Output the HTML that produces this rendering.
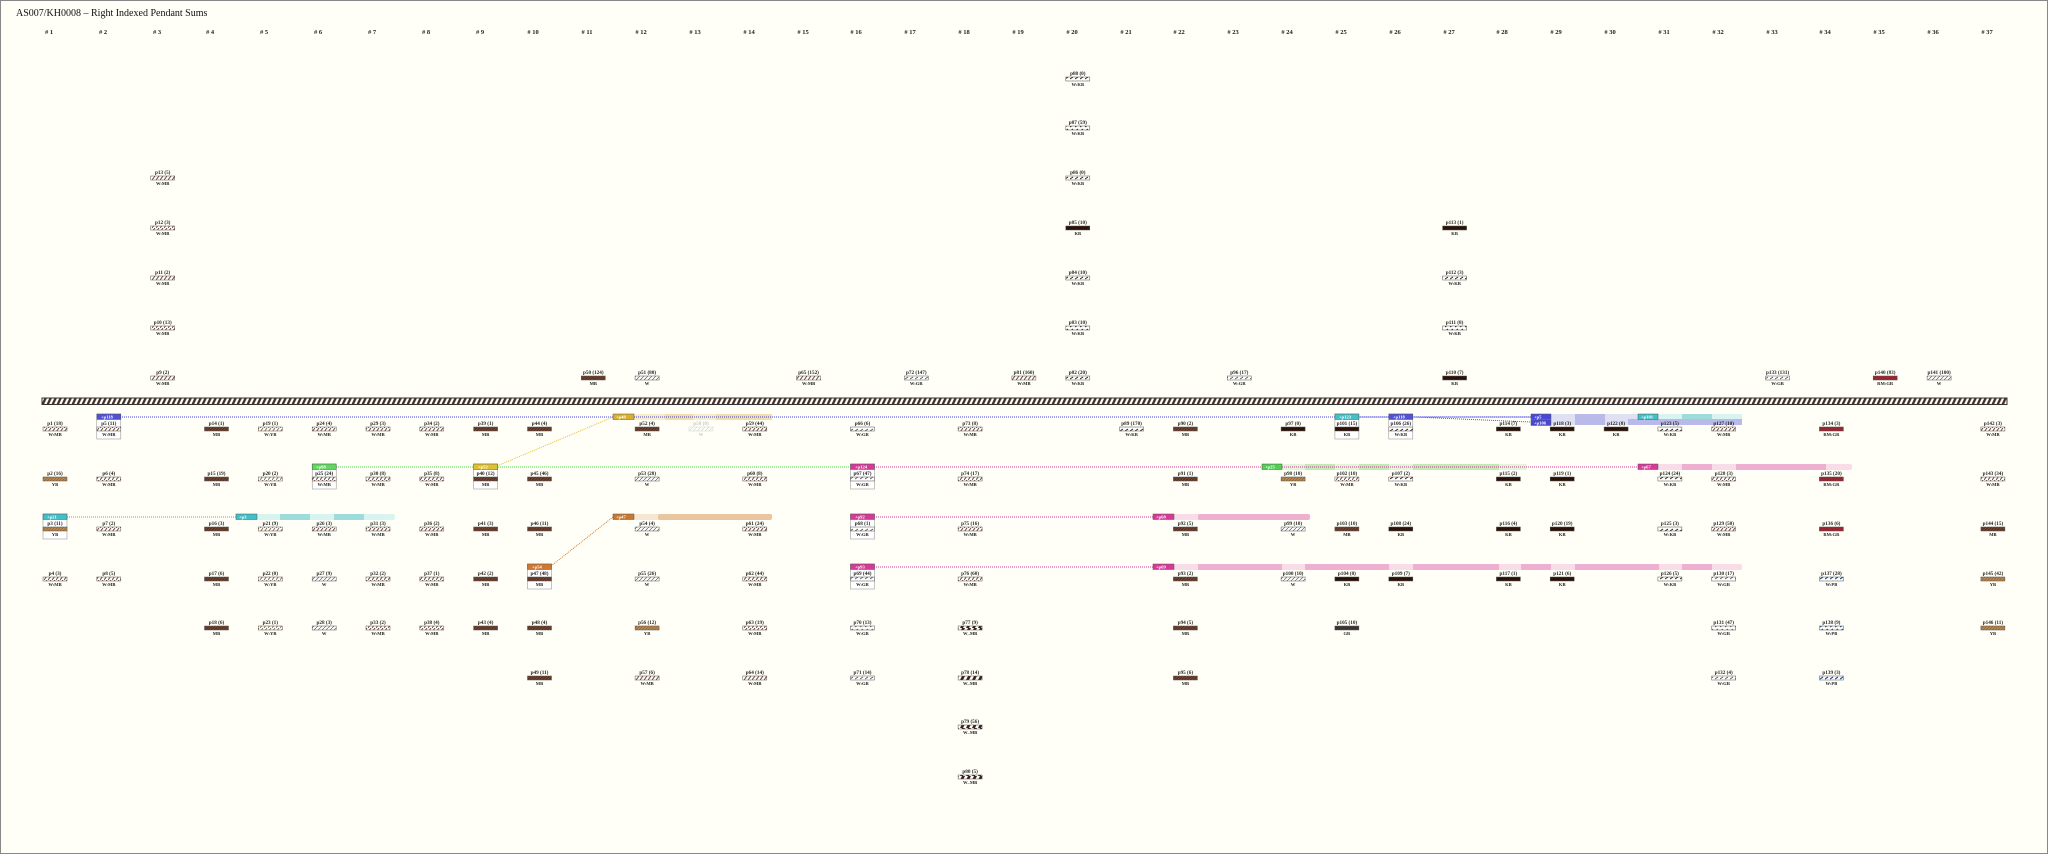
<!DOCTYPE html>
<html><head><meta charset="utf-8"><style>
html,body{margin:0;padding:0;background:#fffff8;}
svg{display:block;}
text{font-family:"Liberation Serif",serif;}
.l{font-size:5.2px;font-weight:bold;text-anchor:middle;fill:#222;}
.c{font-size:4.6px;font-weight:bold;text-anchor:middle;fill:#222;}
.h{font-size:6.5px;font-weight:bold;text-anchor:middle;fill:#222;}
.t{font-size:4.6px;fill:#fff;font-weight:bold;}
.b{stroke:#555;stroke-width:0.5;}
</style></head><body>
<svg width="2048" height="854" viewBox="0 0 2048 854" xmlns="http://www.w3.org/2000/svg">
<defs>
<pattern id="cord" width="5" height="8" patternUnits="userSpaceOnUse" patternTransform="skewX(-25)"><rect width="5" height="8" fill="#fff"/><rect width="2.6" height="8" fill="#4a3028"/></pattern>
<pattern id="MB" width="3" height="3" patternUnits="userSpaceOnUse"><rect width="3" height="3" fill="#5e3424"/><path d="M0 3L3 0" stroke="#8a5a44" stroke-width="0.5"/></pattern>
<pattern id="YB" width="3" height="3" patternUnits="userSpaceOnUse"><rect width="3" height="3" fill="#b8864c"/><path d="M0 3L3 0" stroke="#7a5430" stroke-width="0.5"/></pattern>
<pattern id="W" width="4" height="4" patternUnits="userSpaceOnUse"><rect width="4" height="4" fill="#fff"/><path d="M0 4L4 0" stroke="#444" stroke-width="0.6"/></pattern>
<pattern id="WMB" width="4" height="4" patternUnits="userSpaceOnUse"><rect width="4" height="4" fill="#fff"/><path d="M0 4L3 0" stroke="#6a3a2a" stroke-width="0.9"/></pattern>
<pattern id="WKB" width="5" height="4" patternUnits="userSpaceOnUse"><rect width="5" height="4" fill="#fff"/><path d="M0 3L3 1" stroke="#2a1208" stroke-width="0.9"/></pattern>
<pattern id="WGR" width="5" height="4" patternUnits="userSpaceOnUse"><rect width="5" height="4" fill="#fff"/><path d="M0 3L3 1" stroke="#555" stroke-width="0.8"/></pattern>
<pattern id="WYB" width="4" height="4" patternUnits="userSpaceOnUse"><rect width="4" height="4" fill="#fff"/><path d="M0 4L3 0" stroke="#8a6a44" stroke-width="0.9"/></pattern>
<pattern id="WPB" width="5" height="4" patternUnits="userSpaceOnUse"><rect width="5" height="4" fill="#fff"/><path d="M0 3L3 1" stroke="#1e4a8a" stroke-width="1.1"/></pattern>
<pattern id="WdMB" width="6" height="4" patternUnits="userSpaceOnUse"><rect width="6" height="4" fill="#fff"/><path d="M0 4L2 0H5L3 4Z" fill="#3a2018"/></pattern>
</defs>
<rect x="0.5" y="0.5" width="2047" height="853" fill="#fffff8" stroke="#888" stroke-width="1"/>
<text x="16" y="16" style="font-size:10px;fill:#111">AS007/KH0008 – Right Indexed Pendant Sums</text>
<g class="h">
<text x="49" y="34"># 1</text><text x="103" y="34"># 2</text><text x="157" y="34"># 3</text><text x="210" y="34"># 4</text><text x="264" y="34"># 5</text><text x="318" y="34"># 6</text><text x="372" y="34"># 7</text><text x="426" y="34"># 8</text><text x="480" y="34"># 9</text><text x="533" y="34"># 10</text><text x="587" y="34"># 11</text><text x="641" y="34"># 12</text><text x="695" y="34"># 13</text><text x="749" y="34"># 14</text><text x="803" y="34"># 15</text><text x="856" y="34"># 16</text><text x="910" y="34"># 17</text><text x="964" y="34"># 18</text><text x="1018" y="34"># 19</text><text x="1072" y="34"># 20</text><text x="1126" y="34"># 21</text><text x="1179" y="34"># 22</text><text x="1233" y="34"># 23</text><text x="1287" y="34"># 24</text><text x="1341" y="34"># 25</text><text x="1395" y="34"># 26</text><text x="1449" y="34"># 27</text><text x="1502" y="34"># 28</text><text x="1556" y="34"># 29</text><text x="1610" y="34"># 30</text><text x="1664" y="34"># 31</text><text x="1718" y="34"># 32</text><text x="1772" y="34"># 33</text><text x="1825" y="34"># 34</text><text x="1879" y="34"># 35</text><text x="1933" y="34"># 36</text><text x="1987" y="34"># 37</text>
</g>
<!-- cord -->
<rect x="42" y="398" width="1965" height="6.5" fill="url(#cord)" stroke="#333" stroke-width="1"/>

<!-- bands -->
<g opacity="0.55">
<rect x="634" y="414" width="138" height="6" rx="2" fill="#f2dfa0"/><rect x="665" y="414" width="28" height="6" fill="#e8c468"/><rect x="716" y="414" width="56" height="6" fill="#e8c468"/>
<rect x="634" y="514" width="138" height="6" rx="2" fill="#f0d4b4"/><rect x="658" y="514" width="114" height="6" rx="2" fill="#d89858"/>
<rect x="257" y="514" width="138" height="6" rx="2" fill="#b8ecec"/><rect x="280" y="514" width="30" height="6" fill="#50c0c4"/><rect x="334" y="514" width="30" height="6" fill="#50c0c4"/>
<rect x="1282" y="464" width="245" height="6" rx="2" fill="#c8f0c0"/><rect x="1305" y="464" width="30" height="6" fill="#88dd80"/><rect x="1359" y="464" width="30" height="6" fill="#88dd80"/><rect x="1413" y="464" width="86" height="6" fill="#88dd80"/>
<rect x="1658" y="464" width="194" height="6" rx="2" fill="#f4c0dc"/><rect x="1682" y="464" width="30" height="6" fill="#e070b0"/><rect x="1736" y="464" width="90" height="6" fill="#e070b0"/>
<rect x="1174" y="514" width="136" height="6" rx="2" fill="#f4c0dc"/><rect x="1198" y="514" width="112" height="6" rx="2" fill="#e070b0"/>
<rect x="1174" y="564" width="568" height="6" rx="2" fill="#f4c0dc"/><rect x="1198" y="564" width="84" height="6" fill="#e070b0"/><rect x="1305" y="564" width="84" height="6" fill="#e070b0"/><rect x="1413" y="564" width="86" height="6" fill="#e070b0"/><rect x="1521" y="564" width="30" height="6" fill="#e070b0"/><rect x="1575" y="564" width="84" height="6" fill="#e070b0"/><rect x="1682" y="564" width="30" height="6" fill="#e070b0"/>
<rect x="1551" y="414" width="191" height="11" rx="2" fill="#c8c8f0"/><rect x="1575" y="414" width="30" height="11" fill="#8080e0"/><rect x="1628" y="419" width="114" height="6" fill="#8080e0"/>
<rect x="1658" y="414" width="84" height="5" rx="2" fill="#b8ecec"/><rect x="1682" y="414" width="30" height="5" fill="#50c0c4"/>
</g>
<!-- dotted lines -->
<g fill="none" stroke-width="0.9" stroke-dasharray="1,1">
<path d="M120 417H1531" stroke="#4444e0"/>
<path d="M1413 417L1531 422" stroke="#4444e0"/>
<path d="M1359 417H1531" stroke="#30b8c4"/>
<path d="M67 517H236" stroke="#30b8c4"/>
<path d="M336 467H1270" stroke="#50d850"/>
<path d="M874 467H1638" stroke="#d83898"/>
<path d="M874 517H1153" stroke="#d83898"/>
<path d="M874 567H1153" stroke="#d83898"/>
<path d="M497 466L613 417" stroke="#e0b820"/>
<path d="M551 566L613 517" stroke="#c87020"/>
</g>
<!-- tags -->
<g class="b">
<rect x="613" y="414" width="21" height="5.5" fill="#d8b030"/>
<rect x="613" y="514" width="21" height="5.5" fill="#c87830"/>
<rect x="236" y="514" width="21" height="5.5" fill="#40c0c8"/>
<rect x="1262" y="464" width="20" height="5.5" fill="#50d050"/>
<rect x="1638" y="464" width="20" height="5.5" fill="#d83898"/>
<rect x="1153" y="514" width="21" height="5.5" fill="#d83898"/>
<rect x="1153" y="564" width="21" height="5.5" fill="#d83898"/>
<rect x="1531" y="414" width="20" height="5.5" fill="#4848d8"/>
<rect x="1531" y="420" width="20" height="5.5" fill="#4848d8"/>
<rect x="1638" y="414" width="20" height="5.5" fill="#40c0c8"/>
</g>
<g class="t">
<text x="616" y="418.5">+p40</text><text x="616" y="518.5">+p47</text><text x="239" y="518.5">+p3</text><text x="1265" y="468.5">+p25</text><text x="1641" y="468.5">+p67</text><text x="1156" y="518.5">+p68</text><text x="1156" y="568.5">+p69</text><text x="1534" y="418.5">+p5</text><text x="1534" y="424.5">+p106</text><text x="1641" y="418.5">+p101</text>
</g>

<!-- boxes -->
<g class="b" fill="#fff">
<rect x="43" y="514" width="24" height="25" stroke="#888"/><rect x="43" y="514" width="24" height="5.5" fill="#40c0c8"/>
<rect x="96.8" y="414" width="24" height="25" stroke="#888"/><rect x="96.8" y="414" width="24" height="5.5" fill="#5050d8"/>
<rect x="312.2" y="464" width="24" height="25" stroke="#888"/><rect x="312.2" y="464" width="24" height="5.5" fill="#60d860"/>
<rect x="473.6" y="464" width="24" height="25" stroke="#888"/><rect x="473.6" y="464" width="24" height="5.5" fill="#e0c030"/>
<rect x="527.5" y="564" width="24" height="25" stroke="#888"/><rect x="527.5" y="564" width="24" height="5.5" fill="#d07830"/>
<rect x="850.5" y="464" width="24" height="25" stroke="#888"/><rect x="850.5" y="464" width="24" height="5.5" fill="#d83898"/>
<rect x="850.5" y="514" width="24" height="25" stroke="#888"/><rect x="850.5" y="514" width="24" height="5.5" fill="#d83898"/>
<rect x="850.5" y="564" width="24" height="25" stroke="#888"/><rect x="850.5" y="564" width="24" height="5.5" fill="#d83898"/>
<rect x="1334.9" y="414" width="24" height="25" stroke="#888"/><rect x="1334.9" y="414" width="24" height="5.5" fill="#40c0c8"/>
<rect x="1388.8" y="414" width="24" height="25" stroke="#888"/><rect x="1388.8" y="414" width="24" height="5.5" fill="#5050d8"/>
</g>
<g class="t">
<text x="47" y="518.5">+p21</text><text x="101" y="418.5">+p118</text><text x="316" y="468.5">+p98</text><text x="478" y="468.5">+p52</text><text x="532" y="568.5">+p54</text><text x="855" y="468.5">+p124</text><text x="855" y="518.5">+p92</text><text x="855" y="568.5">+p93</text><text x="1339" y="418.5">+p123</text><text x="1393" y="418.5">+p118</text>
</g>

<!-- pendants -->
<g id="pd">
<!-- col1 x55 -->
<text class="l" x="55" y="425">p1 (18)</text><rect class="b" x="43" y="427" width="24" height="4" fill="url(#WMB)"/><text class="c" x="55" y="436">W:MB</text>
<text class="l" x="55" y="475">p2 (16)</text><rect class="b" x="43" y="477" width="24" height="4" fill="url(#YB)"/><text class="c" x="55" y="486">YB</text>
<text class="l" x="55" y="525">p3 (11)</text><rect class="b" x="43" y="527" width="24" height="4" fill="url(#YB)"/><text class="c" x="55" y="536">YB</text>
<text class="l" x="55" y="575">p4 (3)</text><rect class="b" x="43" y="577" width="24" height="4" fill="url(#WMB)"/><text class="c" x="55" y="586">W:MB</text>
<!-- col2 -->
<text class="l" x="108.8" y="425">p5 (11)</text><rect class="b" x="96.8" y="427" width="24" height="4" fill="url(#WMB)"/><text class="c" x="108.8" y="436">W:MB</text>
<text class="l" x="108.8" y="475">p6 (4)</text><rect class="b" x="96.8" y="477" width="24" height="4" fill="url(#WMB)"/><text class="c" x="108.8" y="486">W:MB</text>
<text class="l" x="108.8" y="525">p7 (2)</text><rect class="b" x="96.8" y="527" width="24" height="4" fill="url(#WMB)"/><text class="c" x="108.8" y="536">W:MB</text>
<text class="l" x="108.8" y="575">p8 (5)</text><rect class="b" x="96.8" y="577" width="24" height="4" fill="url(#WMB)"/><text class="c" x="108.8" y="586">W:MB</text>
<!-- col3 above -->
<text class="l" x="162.7" y="374">p9 (2)</text><rect class="b" x="150.7" y="376" width="24" height="4" fill="url(#WMB)"/><text class="c" x="162.7" y="385">W:MB</text>
<text class="l" x="162.7" y="324">p10 (13)</text><rect class="b" x="150.7" y="326" width="24" height="4" fill="url(#WMB)"/><text class="c" x="162.7" y="335">W:MB</text>
<text class="l" x="162.7" y="274">p11 (2)</text><rect class="b" x="150.7" y="276" width="24" height="4" fill="url(#WMB)"/><text class="c" x="162.7" y="285">W:MB</text>
<text class="l" x="162.7" y="224">p12 (3)</text><rect class="b" x="150.7" y="226" width="24" height="4" fill="url(#WMB)"/><text class="c" x="162.7" y="235">W:MB</text>
<text class="l" x="162.7" y="174">p13 (5)</text><rect class="b" x="150.7" y="176" width="24" height="4" fill="url(#WMB)"/><text class="c" x="162.7" y="185">W:MB</text>
<!-- col4 -->
<text class="l" x="216.5" y="425">p14 (1)</text><rect class="b" x="204.5" y="427" width="24" height="4" fill="url(#MB)"/><text class="c" x="216.5" y="436">MB</text>
<text class="l" x="216.5" y="475">p15 (19)</text><rect class="b" x="204.5" y="477" width="24" height="4" fill="url(#MB)"/><text class="c" x="216.5" y="486">MB</text>
<text class="l" x="216.5" y="525">p16 (3)</text><rect class="b" x="204.5" y="527" width="24" height="4" fill="url(#MB)"/><text class="c" x="216.5" y="536">MB</text>
<text class="l" x="216.5" y="575">p17 (6)</text><rect class="b" x="204.5" y="577" width="24" height="4" fill="url(#MB)"/><text class="c" x="216.5" y="586">MB</text>
<text class="l" x="216.5" y="624">p18 (6)</text><rect class="b" x="204.5" y="626" width="24" height="4" fill="url(#MB)"/><text class="c" x="216.5" y="635">MB</text>
<!-- col5 -->
<text class="l" x="270.3" y="425">p19 (1)</text><rect class="b" x="258.3" y="427" width="24" height="4" fill="url(#WYB)"/><text class="c" x="270.3" y="436">W:YB</text>
<text class="l" x="270.3" y="475">p20 (2)</text><rect class="b" x="258.3" y="477" width="24" height="4" fill="url(#WYB)"/><text class="c" x="270.3" y="486">W:YB</text>
<text class="l" x="270.3" y="525">p21 (9)</text><rect class="b" x="258.3" y="527" width="24" height="4" fill="url(#WYB)"/><text class="c" x="270.3" y="536">W:YB</text>
<text class="l" x="270.3" y="575">p22 (0)</text><rect class="b" x="258.3" y="577" width="24" height="4" fill="url(#WYB)"/><text class="c" x="270.3" y="586">W:YB</text>
<text class="l" x="270.3" y="624">p23 (1)</text><rect class="b" x="258.3" y="626" width="24" height="4" fill="url(#WYB)"/><text class="c" x="270.3" y="635">W:YB</text>
<!-- col6 -->
<text class="l" x="324.2" y="425">p24 (4)</text><rect class="b" x="312.2" y="427" width="24" height="4" fill="url(#WMB)"/><text class="c" x="324.2" y="436">W:MB</text>
<text class="l" x="324.2" y="475">p25 (24)</text><rect class="b" x="312.2" y="477" width="24" height="4" fill="url(#WMB)"/><text class="c" x="324.2" y="486">W:MB</text>
<text class="l" x="324.2" y="525">p26 (3)</text><rect class="b" x="312.2" y="527" width="24" height="4" fill="url(#WMB)"/><text class="c" x="324.2" y="536">W:MB</text>
<text class="l" x="324.2" y="575">p27 (9)</text><rect class="b" x="312.2" y="577" width="24" height="4" fill="url(#W)"/><text class="c" x="324.2" y="586">W</text>
<text class="l" x="324.2" y="624">p28 (3)</text><rect class="b" x="312.2" y="626" width="24" height="4" fill="url(#W)"/><text class="c" x="324.2" y="635">W</text>
<!-- col7 -->
<text class="l" x="378" y="425">p29 (3)</text><rect class="b" x="366" y="427" width="24" height="4" fill="url(#WMB)"/><text class="c" x="378" y="436">W:MB</text>
<text class="l" x="378" y="475">p30 (8)</text><rect class="b" x="366" y="477" width="24" height="4" fill="url(#WMB)"/><text class="c" x="378" y="486">W:MB</text>
<text class="l" x="378" y="525">p31 (3)</text><rect class="b" x="366" y="527" width="24" height="4" fill="url(#WMB)"/><text class="c" x="378" y="536">W:MB</text>
<text class="l" x="378" y="575">p32 (2)</text><rect class="b" x="366" y="577" width="24" height="4" fill="url(#WMB)"/><text class="c" x="378" y="586">W:MB</text>
<text class="l" x="378" y="624">p33 (2)</text><rect class="b" x="366" y="626" width="24" height="4" fill="url(#WMB)"/><text class="c" x="378" y="635">W:MB</text>
<!-- col8 -->
<text class="l" x="431.8" y="425">p34 (2)</text><rect class="b" x="419.8" y="427" width="24" height="4" fill="url(#WMB)"/><text class="c" x="431.8" y="436">W:MB</text>
<text class="l" x="431.8" y="475">p35 (8)</text><rect class="b" x="419.8" y="477" width="24" height="4" fill="url(#WMB)"/><text class="c" x="431.8" y="486">W:MB</text>
<text class="l" x="431.8" y="525">p36 (2)</text><rect class="b" x="419.8" y="527" width="24" height="4" fill="url(#WMB)"/><text class="c" x="431.8" y="536">W:MB</text>
<text class="l" x="431.8" y="575">p37 (1)</text><rect class="b" x="419.8" y="577" width="24" height="4" fill="url(#WMB)"/><text class="c" x="431.8" y="586">W:MB</text>
<text class="l" x="431.8" y="624">p38 (4)</text><rect class="b" x="419.8" y="626" width="24" height="4" fill="url(#WMB)"/><text class="c" x="431.8" y="635">W:MB</text>
<!-- col9 -->
<text class="l" x="485.6" y="425">p39 (1)</text><rect class="b" x="473.6" y="427" width="24" height="4" fill="url(#MB)"/><text class="c" x="485.6" y="436">MB</text>
<text class="l" x="485.6" y="475">p40 (12)</text><rect class="b" x="473.6" y="477" width="24" height="4" fill="url(#MB)"/><text class="c" x="485.6" y="486">MB</text>
<text class="l" x="485.6" y="525">p41 (3)</text><rect class="b" x="473.6" y="527" width="24" height="4" fill="url(#MB)"/><text class="c" x="485.6" y="536">MB</text>
<text class="l" x="485.6" y="575">p42 (2)</text><rect class="b" x="473.6" y="577" width="24" height="4" fill="url(#MB)"/><text class="c" x="485.6" y="586">MB</text>
<text class="l" x="485.6" y="624">p43 (4)</text><rect class="b" x="473.6" y="626" width="24" height="4" fill="url(#MB)"/><text class="c" x="485.6" y="635">MB</text>
<!-- col10 -->
<text class="l" x="539.5" y="425">p44 (4)</text><rect class="b" x="527.5" y="427" width="24" height="4" fill="url(#MB)"/><text class="c" x="539.5" y="436">MB</text>
<text class="l" x="539.5" y="475">p45 (46)</text><rect class="b" x="527.5" y="477" width="24" height="4" fill="url(#MB)"/><text class="c" x="539.5" y="486">MB</text>
<text class="l" x="539.5" y="525">p46 (11)</text><rect class="b" x="527.5" y="527" width="24" height="4" fill="url(#MB)"/><text class="c" x="539.5" y="536">MB</text>
<text class="l" x="539.5" y="575">p47 (48)</text><rect class="b" x="527.5" y="577" width="24" height="4" fill="url(#MB)"/><text class="c" x="539.5" y="586">MB</text>
<text class="l" x="539.5" y="624">p48 (4)</text><rect class="b" x="527.5" y="626" width="24" height="4" fill="url(#MB)"/><text class="c" x="539.5" y="635">MB</text>
<text class="l" x="539.5" y="674">p49 (11)</text><rect class="b" x="527.5" y="676" width="24" height="4" fill="url(#MB)"/><text class="c" x="539.5" y="685">MB</text>
<!-- col11 -->
<text class="l" x="593.3" y="374">p50 (124)</text><rect class="b" x="581.3" y="376" width="24" height="4" fill="url(#MB)"/><text class="c" x="593.3" y="385">MB</text>
<!-- col12 -->
<text class="l" x="647.1" y="374">p51 (80)</text><rect class="b" x="635.1" y="376" width="24" height="4" fill="url(#W)"/><text class="c" x="647.1" y="385">W</text>
<text class="l" x="647.1" y="425">p52 (4)</text><rect class="b" x="635.1" y="427" width="24" height="4" fill="url(#MB)"/><text class="c" x="647.1" y="436">MB</text>
<text class="l" x="647.1" y="475">p53 (28)</text><rect class="b" x="635.1" y="477" width="24" height="4" fill="url(#W)"/><text class="c" x="647.1" y="486">W</text>
<text class="l" x="647.1" y="525">p54 (4)</text><rect class="b" x="635.1" y="527" width="24" height="4" fill="url(#W)"/><text class="c" x="647.1" y="536">W</text>
<text class="l" x="647.1" y="575">p55 (26)</text><rect class="b" x="635.1" y="577" width="24" height="4" fill="url(#W)"/><text class="c" x="647.1" y="586">W</text>
<text class="l" x="647.1" y="624">p56 (12)</text><rect class="b" x="635.1" y="626" width="24" height="4" fill="url(#YB)"/><text class="c" x="647.1" y="635">YB</text>
<text class="l" x="647.1" y="674">p57 (6)</text><rect class="b" x="635.1" y="676" width="24" height="4" fill="url(#WMB)"/><text class="c" x="647.1" y="685">W:MB</text>
<!-- col13 faded -->
<g opacity="0.25"><text class="l" x="701" y="425">p58 (0)</text><rect class="b" x="689" y="427" width="24" height="4" fill="url(#W)"/><text class="c" x="701" y="436">W</text></g>
<!-- col14 -->
<text class="l" x="754.8" y="425">p59 (44)</text><rect class="b" x="742.8" y="427" width="24" height="4" fill="url(#WMB)"/><text class="c" x="754.8" y="436">W:MB</text>
<text class="l" x="754.8" y="475">p60 (8)</text><rect class="b" x="742.8" y="477" width="24" height="4" fill="url(#WMB)"/><text class="c" x="754.8" y="486">W:MB</text>
<text class="l" x="754.8" y="525">p61 (24)</text><rect class="b" x="742.8" y="527" width="24" height="4" fill="url(#WMB)"/><text class="c" x="754.8" y="536">W:MB</text>
<text class="l" x="754.8" y="575">p62 (44)</text><rect class="b" x="742.8" y="577" width="24" height="4" fill="url(#WMB)"/><text class="c" x="754.8" y="586">W:MB</text>
<text class="l" x="754.8" y="624">p63 (19)</text><rect class="b" x="742.8" y="626" width="24" height="4" fill="url(#WMB)"/><text class="c" x="754.8" y="635">W:MB</text>
<text class="l" x="754.8" y="674">p64 (14)</text><rect class="b" x="742.8" y="676" width="24" height="4" fill="url(#WMB)"/><text class="c" x="754.8" y="685">W:MB</text>
<!-- col15 -->
<text class="l" x="808.6" y="374">p65 (152)</text><rect class="b" x="796.6" y="376" width="24" height="4" fill="url(#WMB)"/><text class="c" x="808.6" y="385">W:MB</text>
<!-- col16 -->
<text class="l" x="862.5" y="425">p66 (6)</text><rect class="b" x="850.5" y="427" width="24" height="4" fill="url(#WGR)"/><text class="c" x="862.5" y="436">W:GR</text>
<text class="l" x="862.5" y="475">p67 (47)</text><rect class="b" x="850.5" y="477" width="24" height="4" fill="url(#WGR)"/><text class="c" x="862.5" y="486">W:GR</text>
<text class="l" x="862.5" y="525">p68 (1)</text><rect class="b" x="850.5" y="527" width="24" height="4" fill="url(#WGR)"/><text class="c" x="862.5" y="536">W:GR</text>
<text class="l" x="862.5" y="575">p69 (44)</text><rect class="b" x="850.5" y="577" width="24" height="4" fill="url(#WGR)"/><text class="c" x="862.5" y="586">W:GR</text>
<text class="l" x="862.5" y="624">p70 (13)</text><rect class="b" x="850.5" y="626" width="24" height="4" fill="url(#WGR)"/><text class="c" x="862.5" y="635">W:GR</text>
<text class="l" x="862.5" y="674">p71 (14)</text><rect class="b" x="850.5" y="676" width="24" height="4" fill="url(#WGR)"/><text class="c" x="862.5" y="685">W:GR</text>
<!-- col17 -->
<text class="l" x="916.3" y="374">p72 (147)</text><rect class="b" x="904.3" y="376" width="24" height="4" fill="url(#WGR)"/><text class="c" x="916.3" y="385">W:GR</text>
<!-- col18 -->
<text class="l" x="970.1" y="425">p73 (8)</text><rect class="b" x="958.1" y="427" width="24" height="4" fill="url(#WMB)"/><text class="c" x="970.1" y="436">W:MB</text>
<text class="l" x="970.1" y="475">p74 (17)</text><rect class="b" x="958.1" y="477" width="24" height="4" fill="url(#WMB)"/><text class="c" x="970.1" y="486">W:MB</text>
<text class="l" x="970.1" y="525">p75 (16)</text><rect class="b" x="958.1" y="527" width="24" height="4" fill="url(#WMB)"/><text class="c" x="970.1" y="536">W:MB</text>
<text class="l" x="970.1" y="575">p76 (60)</text><rect class="b" x="958.1" y="577" width="24" height="4" fill="url(#WMB)"/><text class="c" x="970.1" y="586">W:MB</text>
<text class="l" x="970.1" y="624">p77 (9)</text><rect class="b" x="958.1" y="626" width="24" height="4" fill="url(#WdMB)"/><text class="c" x="970.1" y="635">W–MB</text>
<text class="l" x="970.1" y="674">p78 (14)</text><rect class="b" x="958.1" y="676" width="24" height="4" fill="url(#WdMB)"/><text class="c" x="970.1" y="685">W–MB</text>
<text class="l" x="970.1" y="723">p79 (56)</text><rect class="b" x="958.1" y="725" width="24" height="4" fill="url(#WdMB)"/><text class="c" x="970.1" y="734">W–MB</text>
<text class="l" x="970.1" y="773">p80 (5)</text><rect class="b" x="958.1" y="775" width="24" height="4" fill="url(#WdMB)"/><text class="c" x="970.1" y="784">W–MB</text>
<!-- col19 -->
<text class="l" x="1023.9" y="374">p81 (160)</text><rect class="b" x="1011.9" y="376" width="24" height="4" fill="url(#WMB)"/><text class="c" x="1023.9" y="385">W:MB</text>
<!-- col20 -->
<text class="l" x="1077.8" y="374">p82 (20)</text><rect class="b" x="1065.8" y="376" width="24" height="4" fill="url(#WKB)"/><text class="c" x="1077.8" y="385">W:KB</text>
<text class="l" x="1077.8" y="324">p83 (10)</text><rect class="b" x="1065.8" y="326" width="24" height="4" fill="url(#WKB)"/><text class="c" x="1077.8" y="335">W:KB</text>
<text class="l" x="1077.8" y="274">p84 (10)</text><rect class="b" x="1065.8" y="276" width="24" height="4" fill="url(#WKB)"/><text class="c" x="1077.8" y="285">W:KB</text>
<text class="l" x="1077.8" y="224">p85 (10)</text><rect class="b" x="1065.8" y="226" width="24" height="4" fill="#2a1208"/><text class="c" x="1077.8" y="235">KB</text>
<text class="l" x="1077.8" y="174">p86 (0)</text><rect class="b" x="1065.8" y="176" width="24" height="4" fill="url(#WKB)"/><text class="c" x="1077.8" y="185">W:KB</text>
<text class="l" x="1077.8" y="124">p87 (59)</text><rect class="b" x="1065.8" y="126" width="24" height="4" fill="url(#WKB)"/><text class="c" x="1077.8" y="135">W:KB</text>
<text class="l" x="1077.8" y="75">p88 (0)</text><rect class="b" x="1065.8" y="77" width="24" height="4" fill="url(#WKB)"/><text class="c" x="1077.8" y="86">W:KB</text>
<!-- col21 -->
<text class="l" x="1131.6" y="425">p89 (170)</text><rect class="b" x="1119.6" y="427" width="24" height="4" fill="url(#WKB)"/><text class="c" x="1131.6" y="436">W:KB</text>
<!-- col22 -->
<text class="l" x="1185.4" y="425">p90 (2)</text><rect class="b" x="1173.4" y="427" width="24" height="4" fill="url(#MB)"/><text class="c" x="1185.4" y="436">MB</text>
<text class="l" x="1185.4" y="475">p91 (1)</text><rect class="b" x="1173.4" y="477" width="24" height="4" fill="url(#MB)"/><text class="c" x="1185.4" y="486">MB</text>
<text class="l" x="1185.4" y="525">p92 (5)</text><rect class="b" x="1173.4" y="527" width="24" height="4" fill="url(#MB)"/><text class="c" x="1185.4" y="536">MB</text>
<text class="l" x="1185.4" y="575">p93 (2)</text><rect class="b" x="1173.4" y="577" width="24" height="4" fill="url(#MB)"/><text class="c" x="1185.4" y="586">MB</text>
<text class="l" x="1185.4" y="624">p94 (5)</text><rect class="b" x="1173.4" y="626" width="24" height="4" fill="url(#MB)"/><text class="c" x="1185.4" y="635">MB</text>
<text class="l" x="1185.4" y="674">p95 (6)</text><rect class="b" x="1173.4" y="676" width="24" height="4" fill="url(#MB)"/><text class="c" x="1185.4" y="685">MB</text>
<!-- col23 -->
<text class="l" x="1239.3" y="374">p96 (17)</text><rect class="b" x="1227.3" y="376" width="24" height="4" fill="url(#WGR)"/><text class="c" x="1239.3" y="385">W:GR</text>
<!-- col24 -->
<text class="l" x="1293.1" y="425">p97 (0)</text><rect class="b" x="1281.1" y="427" width="24" height="4" fill="#2a1208"/><text class="c" x="1293.1" y="436">KB</text>
<text class="l" x="1293.1" y="475">p98 (10)</text><rect class="b" x="1281.1" y="477" width="24" height="4" fill="url(#YB)"/><text class="c" x="1293.1" y="486">YB</text>
<text class="l" x="1293.1" y="525">p99 (10)</text><rect class="b" x="1281.1" y="527" width="24" height="4" fill="url(#W)"/><text class="c" x="1293.1" y="536">W</text>
<text class="l" x="1293.1" y="575">p100 (10)</text><rect class="b" x="1281.1" y="577" width="24" height="4" fill="url(#W)"/><text class="c" x="1293.1" y="586">W</text>
<!-- col25 -->
<text class="l" x="1346.9" y="425">p101 (15)</text><rect class="b" x="1334.9" y="427" width="24" height="4" fill="#2a1208"/><text class="c" x="1346.9" y="436">KB</text>
<text class="l" x="1346.9" y="475">p102 (10)</text><rect class="b" x="1334.9" y="477" width="24" height="4" fill="url(#WMB)"/><text class="c" x="1346.9" y="486">W:MB</text>
<text class="l" x="1346.9" y="525">p103 (10)</text><rect class="b" x="1334.9" y="527" width="24" height="4" fill="url(#MB)"/><text class="c" x="1346.9" y="536">MB</text>
<text class="l" x="1346.9" y="575">p104 (0)</text><rect class="b" x="1334.9" y="577" width="24" height="4" fill="#2a1208"/><text class="c" x="1346.9" y="586">KB</text>
<text class="l" x="1346.9" y="624">p105 (10)</text><rect class="b" x="1334.9" y="626" width="24" height="4" fill="#3c3434"/><text class="c" x="1346.9" y="635">GR</text>
<!-- col26 -->
<text class="l" x="1400.8" y="425">p106 (26)</text><rect class="b" x="1388.8" y="427" width="24" height="4" fill="url(#WKB)"/><text class="c" x="1400.8" y="436">W:KB</text>
<text class="l" x="1400.8" y="475">p107 (2)</text><rect class="b" x="1388.8" y="477" width="24" height="4" fill="url(#WKB)"/><text class="c" x="1400.8" y="486">W:KB</text>
<text class="l" x="1400.8" y="525">p108 (24)</text><rect class="b" x="1388.8" y="527" width="24" height="4" fill="#2a1208"/><text class="c" x="1400.8" y="536">KB</text>
<text class="l" x="1400.8" y="575">p109 (7)</text><rect class="b" x="1388.8" y="577" width="24" height="4" fill="#2a1208"/><text class="c" x="1400.8" y="586">KB</text>
<!-- col27 -->
<text class="l" x="1454.6" y="374">p110 (7)</text><rect class="b" x="1442.6" y="376" width="24" height="4" fill="#2a1208"/><text class="c" x="1454.6" y="385">KB</text>
<text class="l" x="1454.6" y="324">p111 (8)</text><rect class="b" x="1442.6" y="326" width="24" height="4" fill="url(#WKB)"/><text class="c" x="1454.6" y="335">W:KB</text>
<text class="l" x="1454.6" y="274">p112 (3)</text><rect class="b" x="1442.6" y="276" width="24" height="4" fill="url(#WKB)"/><text class="c" x="1454.6" y="285">W:KB</text>
<text class="l" x="1454.6" y="224">p113 (1)</text><rect class="b" x="1442.6" y="226" width="24" height="4" fill="#2a1208"/><text class="c" x="1454.6" y="235">KB</text>
<!-- col28 -->
<text class="l" x="1508.4" y="425">p114 (7)</text><rect class="b" x="1496.4" y="427" width="24" height="4" fill="#2a1208"/><text class="c" x="1508.4" y="436">KB</text>
<text class="l" x="1508.4" y="475">p115 (2)</text><rect class="b" x="1496.4" y="477" width="24" height="4" fill="#2a1208"/><text class="c" x="1508.4" y="486">KB</text>
<text class="l" x="1508.4" y="525">p116 (4)</text><rect class="b" x="1496.4" y="527" width="24" height="4" fill="#2a1208"/><text class="c" x="1508.4" y="536">KB</text>
<text class="l" x="1508.4" y="575">p117 (1)</text><rect class="b" x="1496.4" y="577" width="24" height="4" fill="#2a1208"/><text class="c" x="1508.4" y="586">KB</text>
<!-- col29 -->
<text class="l" x="1562.2" y="425">p118 (3)</text><rect class="b" x="1550.2" y="427" width="24" height="4" fill="#2a1208"/><text class="c" x="1562.2" y="436">KB</text>
<text class="l" x="1562.2" y="475">p119 (1)</text><rect class="b" x="1550.2" y="477" width="24" height="4" fill="#2a1208"/><text class="c" x="1562.2" y="486">KB</text>
<text class="l" x="1562.2" y="525">p120 (19)</text><rect class="b" x="1550.2" y="527" width="24" height="4" fill="#2a1208"/><text class="c" x="1562.2" y="536">KB</text>
<text class="l" x="1562.2" y="575">p121 (6)</text><rect class="b" x="1550.2" y="577" width="24" height="4" fill="#2a1208"/><text class="c" x="1562.2" y="586">KB</text>
<!-- col30 -->
<text class="l" x="1616.1" y="425">p122 (8)</text><rect class="b" x="1604.1" y="427" width="24" height="4" fill="#2a1208"/><text class="c" x="1616.1" y="436">KB</text>
<!-- col31 -->
<text class="l" x="1669.9" y="425">p123 (5)</text><rect class="b" x="1657.9" y="427" width="24" height="4" fill="url(#WKB)"/><text class="c" x="1669.9" y="436">W:KB</text>
<text class="l" x="1669.9" y="475">p124 (24)</text><rect class="b" x="1657.9" y="477" width="24" height="4" fill="url(#WKB)"/><text class="c" x="1669.9" y="486">W:KB</text>
<text class="l" x="1669.9" y="525">p125 (3)</text><rect class="b" x="1657.9" y="527" width="24" height="4" fill="url(#WKB)"/><text class="c" x="1669.9" y="536">W:KB</text>
<text class="l" x="1669.9" y="575">p126 (5)</text><rect class="b" x="1657.9" y="577" width="24" height="4" fill="url(#WKB)"/><text class="c" x="1669.9" y="586">W:KB</text>
<!-- col32 -->
<text class="l" x="1723.7" y="425">p127 (10)</text><rect class="b" x="1711.7" y="427" width="24" height="4" fill="url(#WMB)"/><text class="c" x="1723.7" y="436">W:MB</text>
<text class="l" x="1723.7" y="475">p128 (3)</text><rect class="b" x="1711.7" y="477" width="24" height="4" fill="url(#WMB)"/><text class="c" x="1723.7" y="486">W:MB</text>
<text class="l" x="1723.7" y="525">p129 (50)</text><rect class="b" x="1711.7" y="527" width="24" height="4" fill="url(#WMB)"/><text class="c" x="1723.7" y="536">W:MB</text>
<text class="l" x="1723.7" y="575">p130 (17)</text><rect class="b" x="1711.7" y="577" width="24" height="4" fill="url(#WGR)"/><text class="c" x="1723.7" y="586">W:GR</text>
<text class="l" x="1723.7" y="624">p131 (47)</text><rect class="b" x="1711.7" y="626" width="24" height="4" fill="url(#WGR)"/><text class="c" x="1723.7" y="635">W:GR</text>
<text class="l" x="1723.7" y="674">p132 (4)</text><rect class="b" x="1711.7" y="676" width="24" height="4" fill="url(#WGR)"/><text class="c" x="1723.7" y="685">W:GR</text>
<!-- col33 -->
<text class="l" x="1777.6" y="374">p133 (131)</text><rect class="b" x="1765.6" y="376" width="24" height="4" fill="url(#WGR)"/><text class="c" x="1777.6" y="385">W:GR</text>
<!-- col34 -->
<text class="l" x="1831.4" y="425">p134 (3)</text><rect class="b" x="1819.4" y="427" width="24" height="4" fill="#9a2432"/><text class="c" x="1831.4" y="436">RM:GR</text>
<text class="l" x="1831.4" y="475">p135 (20)</text><rect class="b" x="1819.4" y="477" width="24" height="4" fill="#9a2432"/><text class="c" x="1831.4" y="486">RM:GR</text>
<text class="l" x="1831.4" y="525">p136 (6)</text><rect class="b" x="1819.4" y="527" width="24" height="4" fill="#9a2432"/><text class="c" x="1831.4" y="536">RM:GR</text>
<text class="l" x="1831.4" y="575">p137 (28)</text><rect class="b" x="1819.4" y="577" width="24" height="4" fill="url(#WPB)"/><text class="c" x="1831.4" y="586">W:PB</text>
<text class="l" x="1831.4" y="624">p138 (9)</text><rect class="b" x="1819.4" y="626" width="24" height="4" fill="url(#WPB)"/><text class="c" x="1831.4" y="635">W:PB</text>
<text class="l" x="1831.4" y="674">p139 (3)</text><rect class="b" x="1819.4" y="676" width="24" height="4" fill="url(#WPB)"/><text class="c" x="1831.4" y="685">W:PB</text>
<!-- col35/36 -->
<text class="l" x="1885.2" y="374">p140 (83)</text><rect class="b" x="1873.2" y="376" width="24" height="4" fill="#9a2432"/><text class="c" x="1885.2" y="385">RM:GR</text>
<text class="l" x="1939.1" y="374">p141 (100)</text><rect class="b" x="1927.1" y="376" width="24" height="4" fill="url(#W)"/><text class="c" x="1939.1" y="385">W</text>
<!-- col37 -->
<text class="l" x="1992.9" y="425">p142 (3)</text><rect class="b" x="1980.9" y="427" width="24" height="4" fill="url(#WMB)"/><text class="c" x="1992.9" y="436">W:MB</text>
<text class="l" x="1992.9" y="475">p143 (34)</text><rect class="b" x="1980.9" y="477" width="24" height="4" fill="url(#WMB)"/><text class="c" x="1992.9" y="486">W:MB</text>
<text class="l" x="1992.9" y="525">p144 (15)</text><rect class="b" x="1980.9" y="527" width="24" height="4" fill="url(#MB)"/><text class="c" x="1992.9" y="536">MB</text>
<text class="l" x="1992.9" y="575">p145 (42)</text><rect class="b" x="1980.9" y="577" width="24" height="4" fill="url(#YB)"/><text class="c" x="1992.9" y="586">YB</text>
<text class="l" x="1992.9" y="624">p146 (11)</text><rect class="b" x="1980.9" y="626" width="24" height="4" fill="url(#YB)"/><text class="c" x="1992.9" y="635">YB</text>
</g>
</svg>
</body></html>
